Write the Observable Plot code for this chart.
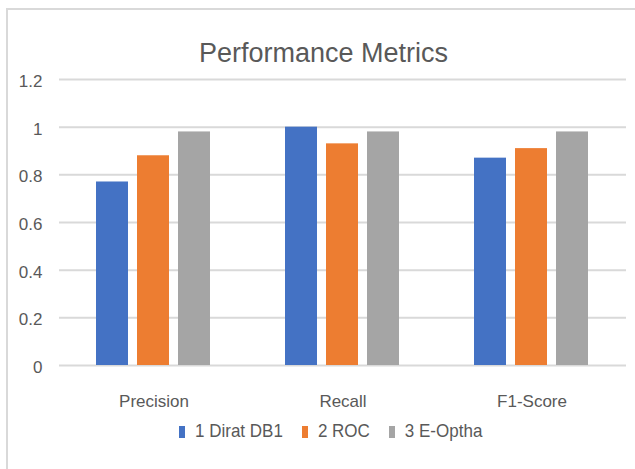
<!DOCTYPE html>
<html>
<head>
<meta charset="utf-8">
<script src="https://cdn.jsdelivr.net/npm/d3@7"></script>
<script src="https://cdn.jsdelivr.net/npm/@observablehq/plot@0.6"></script>
<style>
  html, body { margin: 0; padding: 0; background: #fff; }
  #wrap { position: relative; width: 635px; height: 469px; overflow: hidden; background: #fff; }
  #frame { position: absolute; left: 6px; top: 8px; width: 700px; height: 600px; border-top: 2px solid #d9d9d9; border-left: 2px solid #d9d9d9; }
  #title { position: absolute; left: 0; top: 40px; width: 647px; text-align: center; font-family: "Liberation Sans", Arial, sans-serif; font-size: 27px; line-height: 26px; color: #595959; }
  #chart { position: absolute; left: 0; top: 0; }
  #legend { position: absolute; left: 179px; top: 422px; display: flex; align-items: center; font-family: "Liberation Sans", Arial, sans-serif; font-size: 17px; line-height: 20px; color: #595959; white-space: nowrap; }
  #legend .item { display: flex; align-items: center; margin-right: 19px; }
  #legend .sw { display: inline-block; width: 6px; height: 12px; margin-right: 10px; }
  #legend .txt { display: inline-block; transform: scaleY(1.08); }
</style>
</head>
<body>
<div id="wrap">
  <div id="frame"></div>
  <div id="chart"></div>
  <div id="title">Performance Metrics</div>
  <div id="legend"></div>
</div>
<script>
const metrics = ["Precision", "Recall", "F1-Score"];
const series = ["1 Dirat DB1", "2 ROC", "3 E-Optha"];
const diratDB1 = [0.77, 1.0, 0.87];
const roc = [0.88, 0.93, 0.91];
const eOptha = [0.98, 0.98, 0.98];
const seriesColors = ["#4472C4", "#ED7D31", "#A5A5A5"];
const yTicks = [0, 0.2, 0.4, 0.6, 0.8, 1, 1.2];

const valuesBySeries = [diratDB1, roc, eOptha];
const rows = [];
metrics.forEach((m, i) => {
  series.forEach((s, j) => {
    rows.push({metric: m, series: s, value: valuesBySeries[j][i]});
  });
});

const axisFont = '"Liberation Sans", Arial, sans-serif';

const chart = Plot.plot({
  width: 635,
  height: 420,
  marginLeft: 58,
  marginRight: 9,
  marginTop: 79,
  marginBottom: 55,
  style: {fontFamily: axisFont, fontSize: "17px", color: "#595959", background: "transparent"},
  fx: {domain: metrics, paddingInner: 0, paddingOuter: 0, label: null},
  x: {domain: series, paddingInner: 0.214, paddingOuter: 0.861, axis: null},
  y: {domain: [0, 1.2], label: null},
  color: {domain: series, range: seriesColors},
  marks: [
    Plot.gridY(yTicks, {stroke: "#d9d9d9", strokeOpacity: 1, strokeWidth: 2}),
    Plot.axisY(yTicks, {tickSize: 0, tickPadding: 17, tickFormat: d => String(+d.toFixed(1)), label: null, dy: 2, fill: "#595959"}),
    Plot.axisFx({anchor: "bottom", tickSize: 0, tickPadding: 29, label: null, fill: "#595959"}),
    Plot.barY(rows, {fx: "metric", x: "series", y: "value", fill: "series"})
  ]
});
document.getElementById("chart").appendChild(chart);

// Slight vertical stretch of axis text (reference glyphs are tall and narrow)
d3.select(chart).selectAll("text").each(function() {
  const el = this;
  if (!el.hasAttribute("transform")) {
    el.style.transformBox = "fill-box";
    el.style.transformOrigin = "center";
    el.style.transform = "scaleY(1.2)";
  }
});

const legend = document.getElementById("legend");
series.forEach((s, i) => {
  const item = document.createElement("span");
  item.className = "item";
  const sw = document.createElement("span");
  sw.className = "sw";
  sw.style.background = seriesColors[i];
  const t = document.createElement("span");
  t.className = "txt";
  t.textContent = s;
  item.appendChild(sw);
  item.appendChild(t);
  legend.appendChild(item);
});
</script>
</body>
</html>
